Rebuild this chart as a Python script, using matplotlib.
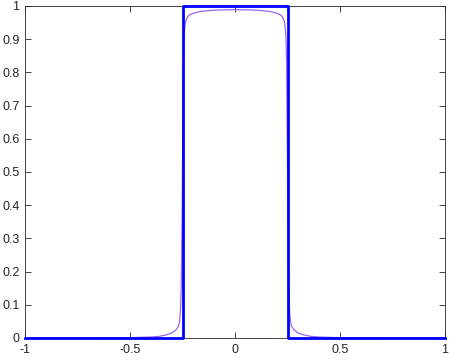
import matplotlib.pyplot as plt

# rectangular pulse (exact)
rect_x = [-1, -0.25, -0.25, 0.25, 0.25, 1]
rect_y = [0, 0, 1, 1, 0, 0]

# smoothed approximation
approx_x = [-1, -0.6, -0.5, -0.45, -0.4, -0.36, -0.33, -0.3, -0.28, -0.27,
            -0.265, -0.26, -0.256, -0.252, -0.249, -0.246, -0.243, -0.24,
            -0.236, -0.23, -0.22, -0.2, -0.17, -0.13, -0.08, 0,
            0.08, 0.13, 0.17, 0.2, 0.22, 0.23, 0.236, 0.24, 0.243, 0.246,
            0.249, 0.252, 0.256, 0.26, 0.265, 0.27, 0.28, 0.3, 0.33, 0.36,
            0.4, 0.45, 0.5, 0.6, 1]
approx_y = [0, 0.0005, 0.001, 0.002, 0.003, 0.005, 0.009, 0.015, 0.025, 0.035,
            0.045, 0.08, 0.15, 0.35, 0.6, 0.82, 0.90, 0.93,
            0.95, 0.962, 0.972, 0.978, 0.983, 0.986, 0.988, 0.989,
            0.988, 0.986, 0.983, 0.978, 0.972, 0.962, 0.95, 0.93, 0.90, 0.82,
            0.6, 0.35, 0.15, 0.08, 0.045, 0.035, 0.025, 0.015, 0.009, 0.005,
            0.003, 0.002, 0.001, 0.0005, 0]

x_ticks = [-1, -0.5, 0, 0.5, 1]
x_labels = ['-1', '-0.5', '0', '0.5', '1']
y_ticks = [0, 0.1, 0.2, 0.3, 0.4, 0.5, 0.6, 0.7, 0.8, 0.9, 1]
y_labels = ['0', '0.1', '0.2', '0.3', '0.4', '0.5', '0.6', '0.7', '0.8', '0.9', '1']

plt.rcParams['font.family'] = ['Liberation Sans', 'DejaVu Sans']

fig = plt.figure(figsize=(4.5, 3.6), dpi=100)
ax = fig.add_axes([25 / 450, 22 / 360, 420 / 450, 332 / 360])

ax.plot(rect_x, rect_y, color='#0000ff', linewidth=2, clip_on=False, zorder=3)
ax.plot(approx_x, approx_y, color='#9966ee', linewidth=0.9, zorder=2)

ax.set_xlim(-1, 1)
ax.set_ylim(0, 1)
ax.set_xticks(x_ticks)
ax.set_xticklabels(x_labels)
ax.set_yticks(y_ticks)
ax.set_yticklabels(y_labels)

ax.tick_params(direction='in', length=4, width=0.6, colors='#262626',
               labelsize=9, top=True, right=True, pad=4)
for s in ax.spines.values():
    s.set_color('#262626')
    s.set_linewidth(0.6)

fig.savefig('out.png', dpi=100)
